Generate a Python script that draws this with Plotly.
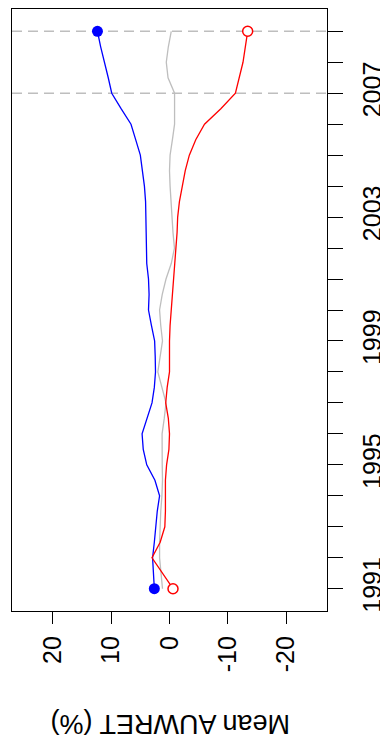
import plotly.graph_objects as go

years = [1991.0, 1991.5, 1992.0, 1992.5, 1993.0, 1993.5, 1994.0, 1994.5, 1995.0, 1995.5,
         1996.0, 1996.5, 1997.0, 1997.5, 1998.0, 1998.5, 1999.0, 1999.5, 2000.0, 2000.5,
         2001.0, 2001.5, 2002.0, 2002.5, 2003.0, 2003.5, 2004.0, 2004.5, 2005.0, 2005.5,
         2006.0, 2006.5, 2007.0, 2007.5, 2008.0, 2008.5, 2009.0]

blue = [2.6, 2.75, 2.9, 2.6, 2.4, 2.1, 1.7, 2.5, 3.9, 4.5,
        4.7, 3.8, 3.0, 2.6, 2.4, 2.45, 2.55, 3.1, 3.6, 3.5,
        3.6, 3.9, 4.0, 4.0, 4.05, 4.1, 4.3, 4.6, 5.0, 5.8,
        6.6, 8.3, 9.9, 10.5, 11.2, 11.8, 12.35]

red = [-0.6, 1.2, 3.0, 1.6, 0.8, 0.7, 0.75, 0.7, 0.5, 0.1,
       0.0, 0.2, 0.65, 0.4, 0.0, 0.05, 0.0, -0.1, -0.3, -0.5,
       -0.7, -0.95, -1.2, -1.3, -1.4, -1.7, -2.2, -2.7, -3.4, -4.5,
       -6.0, -8.8, -11.3, -12.0, -12.6, -13.0, -13.4]

gray = [1.2, 1.45, 1.7, 1.7, 1.65, 1.5, 1.3, 1.2, 1.25, 1.27,
        1.27, 0.9, 0.6, 1.3, 2.0, 1.6, 1.2, 1.5, 1.7, 1.25,
        0.6, -0.3, -0.85, -0.6, -0.4, -0.2, -0.1, 0.0, -0.1, -0.5,
        -0.87, -0.87, -0.87, 0.25, 0.55, 0.2, -0.3]

dashed_years = [2007, 2009]
year_ticks = list(range(1991, 2010))
year_labels = [str(y) if (y - 1991) % 4 == 0 else "" for y in year_ticks]
value_ticks = [20, 10, 0, -10, -20]
value_labels = ["20", "10", "0", "-10", "-20"]
axis_title = "Mean AUWRET (%)"

FONT = "Liberation Sans, Arial, sans-serif"

fig = go.Figure()

for yv in dashed_years:
    fig.add_shape(type="line", xref="paper", x0=0, x1=1, yref="y", y0=yv, y1=yv,
                  line=dict(color="#BEBEBE", width=1.5, dash="10px,6px"), layer="below")

fig.add_trace(go.Scatter(x=gray, y=years, mode="lines",
                         line=dict(color="#BEBEBE", width=1.3), showlegend=False))
fig.add_trace(go.Scatter(x=blue, y=years, mode="lines",
                         line=dict(color="#0000FF", width=1.3), showlegend=False))
fig.add_trace(go.Scatter(x=red, y=years, mode="lines",
                         line=dict(color="#FF0000", width=1.3), showlegend=False))

fig.add_trace(go.Scatter(x=[blue[0], blue[-1]], y=[years[0], years[-1]], mode="markers",
                         marker=dict(color="#0000FF", size=11, symbol="circle"),
                         showlegend=False))
fig.add_trace(go.Scatter(x=[red[0], red[-1]], y=[years[0], years[-1]], mode="markers",
                         marker=dict(color="white", size=10, symbol="circle",
                                     line=dict(color="#FF0000", width=1.5)),
                         showlegend=False))

# page body has an 8px default margin, so the figure is sized to fit within the window
fig.update_layout(
    width=380, height=737,
    margin=dict(l=4, r=61, t=1, b=134, autoexpand=False),
    paper_bgcolor="white", plot_bgcolor="white",
    font=dict(family=FONT, size=25, color="black"),
    xaxis=dict(range=[27, -27], showgrid=False, zeroline=False, automargin=False,
               tickmode="array", tickvals=value_ticks, ticktext=value_labels,
               tickangle=-90, ticks="outside", ticklen=12, tickwidth=1.2, tickcolor="black",
               showline=True, linecolor="black", linewidth=1.2, mirror=True,
               ticklabelstandoff=2,
               tickfont=dict(family=FONT, size=25, color="black")),
    yaxis=dict(range=[1990.28, 2009.72], showgrid=False, zeroline=False, side="right",
               automargin=False,
               tickmode="array", tickvals=year_ticks, ticktext=year_labels,
               tickangle=-90, ticks="outside", ticklen=15, tickwidth=1.2, tickcolor="black",
               showline=True, linecolor="black", linewidth=1.2, mirror=True,
               ticklabelstandoff=8,
               tickfont=dict(family=FONT, size=25, color="black")),
)

fig.add_annotation(text=axis_title, xref="paper", yref="paper",
                   x=(170 - 12) / 315, y=(611 - 724) / 602,
                   xanchor="center", yanchor="middle", showarrow=False,
                   textangle=180, font=dict(family=FONT, size=27, color="black"))

fig.write_html("out.html")
